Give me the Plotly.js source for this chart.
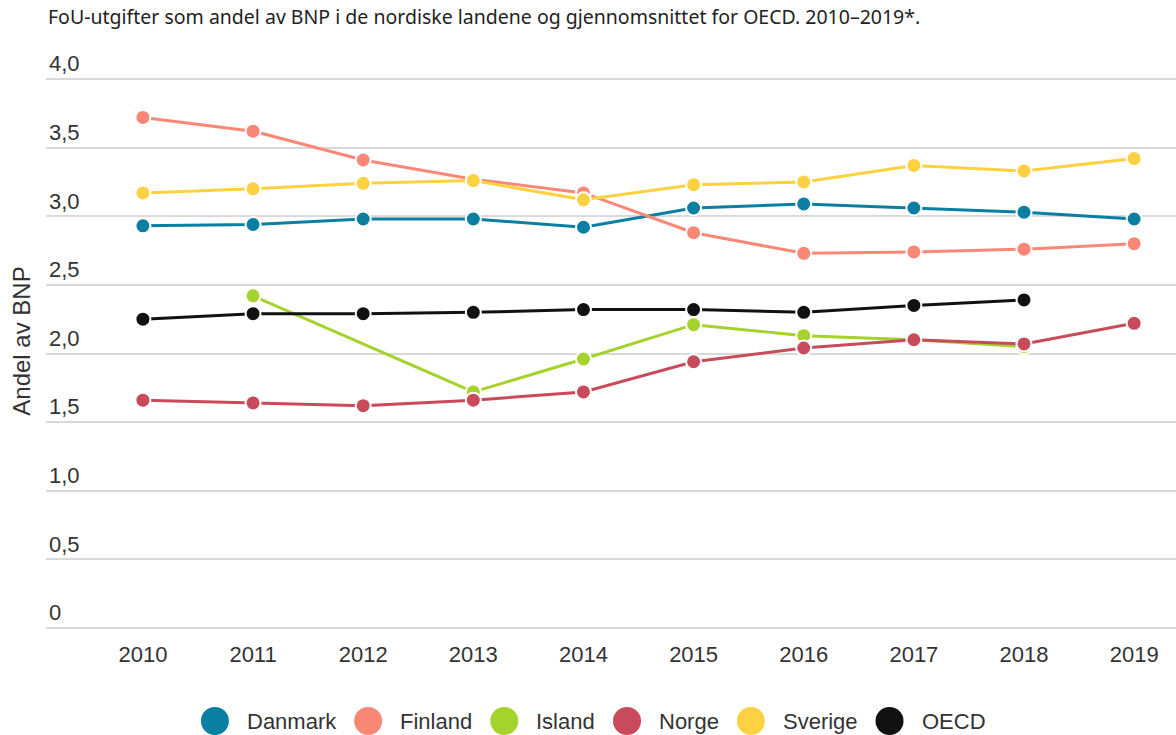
<!DOCTYPE html>
<html>
<head>
<meta charset="utf-8">
<script src="https://cdn.plot.ly/plotly-3.0.1.min.js"></script>
<style>
html,body{margin:0;padding:0;background:#fff;}
#chart{width:1176px;height:735px;}
</style>
</head>
<body>
<div id="chart"></div>
<script>
// ---- data ----
const years = [2010, 2011, 2012, 2013, 2014, 2015, 2016, 2017, 2018, 2019];
const danmark = [2.93, 2.94, 2.98, 2.98, 2.92, 3.06, 3.09, 3.06, 3.03, 2.98];
const finland = [3.72, 3.62, 3.41, 3.27, 3.17, 2.88, 2.73, 2.74, 2.76, 2.80];
const island  = [null, 2.42, null, 1.72, 1.96, 2.21, 2.13, 2.10, 2.05, null];
const norge   = [1.66, 1.64, 1.62, 1.66, 1.72, 1.94, 2.04, 2.10, 2.07, 2.22];
const sverige = [3.17, 3.20, 3.24, 3.26, 3.12, 3.23, 3.25, 3.37, 3.33, 3.42];
const oecd    = [2.25, 2.29, 2.29, 2.30, 2.32, 2.32, 2.30, 2.35, 2.39, null];

const seriesNames = ["Danmark", "Finland", "Island", "Norge", "Sverige", "OECD"];
const seriesValues = [danmark, finland, island, norge, sverige, oecd];
const seriesColors = ["#0a7fa1", "#fb8776", "#a6d22e", "#c94b5b", "#fdd141", "#111111"];

const yTickVals = [0, 0.5, 1.0, 1.5, 2.0, 2.5, 3.0, 3.5, 4.0];
const yTickText = ["0", "0,5", "1,0", "1,5", "2,0", "2,5", "3,0", "3,5", "4,0"];
const xTickText = years.map(String);

const titleText = "FoU-utgifter som andel av BNP i de nordiske landene og gjennomsnittet for OECD. 2010–2019*.";
const yTitleText = "Andel av BNP";

// ---- geometry (layout only) ----
const W = 1176, H = 735;
const M = {l: 46, r: 0, t: 51, b: 104};
const plotW = W - M.l - M.r;
const plotH = H - M.t - M.b;
const pxPerUnit = 137.25;
const yMin = -3 / pxPerUnit;
const yMax = yMin + plotH / pxPerUnit;

// ---- traces ----
const traces = seriesNames.map((name, i) => ({
  type: "scatter",
  mode: "lines+markers",
  name: name,
  x: years,
  y: seriesValues[i],
  connectgaps: true,
  showlegend: false,
  line: {color: seriesColors[i], width: 3},
  marker: {color: seriesColors[i], size: 15, line: {color: "#ffffff", width: 2}},
  hoverinfo: "x+y+name"
}));

// ---- custom legend with large circles ----
const legendFont = 22;
const legendFontFamily = "Liberation Sans";
const ctx = document.createElement("canvas").getContext("2d");
ctx.font = legendFont + "px '" + legendFontFamily + "'";
const circleD = 28, gapIn = 16, gapOut = 16;
const widths = seriesNames.map(n => ctx.measureText(n).width + 4);
const total = widths.reduce((s, w) => s + circleD + gapIn + w, 0) + gapOut * (seriesNames.length - 1);
const legendCenterPx = 594, legendYPx = 721;
let cursor = legendCenterPx - total / 2;
const toPaperX = px => (px - M.l) / plotW;
const toPaperY = py => (H - M.b - py) / plotH;
const shapes = [], annotations = [];
seriesNames.forEach((name, i) => {
  const cx = cursor + circleD / 2;
  shapes.push({
    type: "circle", xref: "paper", yref: "paper",
    xsizemode: "pixel", ysizemode: "pixel",
    xanchor: toPaperX(cx), yanchor: toPaperY(legendYPx),
    x0: -circleD / 2, x1: circleD / 2, y0: -circleD / 2, y1: circleD / 2,
    fillcolor: seriesColors[i], line: {width: 0}, layer: "above"
  });
  annotations.push({
    xref: "paper", yref: "paper",
    x: toPaperX(cursor + circleD + gapIn), y: toPaperY(legendYPx),
    xanchor: "left", yanchor: "middle", showarrow: false,
    text: name, font: {family: legendFontFamily, size: legendFont, color: "#333333"}
  });
  cursor += circleD + gapIn + widths[i] + gapOut;
});

const layout = {
  width: W,
  height: H,
  paper_bgcolor: "#ffffff",
  plot_bgcolor: "#ffffff",
  margin: M,
  font: {family: "Liberation Sans, Arial, sans-serif", color: "#333333", size: 22},
  showlegend: false,
  title: {
    text: titleText,
    x: 0, xref: "paper", xanchor: "left",
    y: 1, yref: "container", yanchor: "top",
    pad: {t: 10, l: 2},
    font: {family: "Noto Sans, sans-serif", size: 19.5, color: "#222222"}
  },
  xaxis: {
    range: [2009.12, 2019.38],
    tickvals: years,
    ticktext: xTickText,
    showgrid: false,
    zeroline: false,
    showline: false,
    ticks: "",
    ticklabelstandoff: 8,
    tickfont: {size: 22, color: "#333333"},
    fixedrange: true
  },
  yaxis: {
    range: [yMin, yMax],
    tickvals: yTickVals,
    ticktext: yTickText,
    ticklabelposition: "inside top",
    showgrid: true,
    gridcolor: "#d9d9d9",
    gridwidth: 2,
    zeroline: false,
    showline: false,
    ticks: "",
    tickfont: {size: 22, color: "#333333"},
    automargin: false,
    title: {text: yTitleText, font: {size: 24, color: "#333333"}, standoff: 11},
    fixedrange: true
  },
  shapes: shapes,
  annotations: annotations,
  hovermode: "closest"
};

Plotly.newPlot("chart", traces, layout, {displayModeBar: false, responsive: false});
</script>
</body>
</html>
